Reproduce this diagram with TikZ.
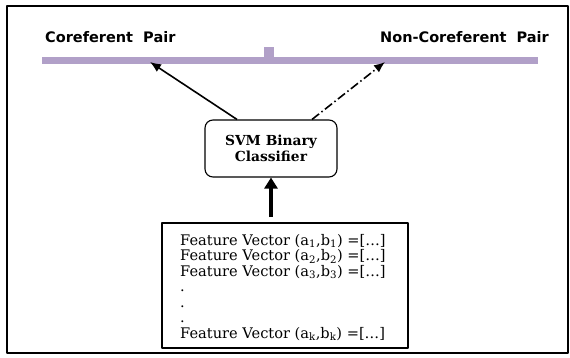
\documentclass[tikz,border=0pt]{standalone}
\usepackage{fontspec}
\usetikzlibrary{arrows.meta}
\newfontfamily\pairfont{DejaVu Sans}
\newfontfamily\boxfont{DejaVu Serif}
\definecolor{barlilac}{RGB}{177,160,200}
\begin{document}
\begin{tikzpicture}[x=1pt, y=-1pt, line join=round,
		pair/.style={anchor=base west, inner sep=0pt, font=\pairfont\bfseries\fontsize{14.5}{17}\selectfont},
		svmbox/.style={draw, line width=1.1pt, rounded corners=8pt, minimum width=132pt, minimum height=57pt, align=center, font=\boxfont\bfseries\fontsize{13.8}{15.5}\selectfont},
		featbox/.style={draw, line width=1.6pt, minimum width=246pt, minimum height=125pt},
		vecline/.style={anchor=base west, inner sep=0pt, font=\boxfont\fontsize{14.6}{15.5}\selectfont},
		thin/.style={line width=1.6pt, -{Latex[length=11pt,width=9pt]}}]
			\useasboundingbox (0,0) rectangle (570,358);
			\draw[line width=2.5pt] (7,6) rectangle (568,353);
			% Thanh phân loại
			\draw[barlilac, line width=7pt] (42,60.5) -- (538,60.5);
			\fill[barlilac] (264,47) rectangle (274,58);
			\node[pair] (cp) at (45,43) {Coreferent~ Pair};
			\node[pair] (ncp) at (380,43) {Non-Coreferent~ Pair};
			\coordinate (P) at (150,62);
			\coordinate (Q) at (385,62);
			% Bộ phân loại
			\node[svmbox] (svm) at (271,148.5) {SVM Binary\\Classifier};
			\draw[thin] ([xshift=-34pt]svm.north) -- (P);
			\draw[thin, dash pattern=on 9pt off 3pt on 1.5pt off 3pt] ([xshift=41pt]svm.north) -- (Q);
			% Các vector đặc trưng
			\node[featbox] (feat) at (285,285.5) {};
			\foreach \t/\y [count=\i] in {{Feature Vector (a\textsubscript{1},b\textsubscript{1}) =[\dots]}/245,
				{Feature Vector (a\textsubscript{2},b\textsubscript{2}) =[\dots]}/260.5,
				{Feature Vector (a\textsubscript{3},b\textsubscript{3}) =[\dots]}/276,
				./291.5, ./307, ./322.5,
				{Feature Vector (a\textsubscript{k},b\textsubscript{k}) =[\dots]}/338}
			\node[vecline] (line\i) at (180,\y) {\t};
			\draw[line width=4pt, shorten <=5pt, -{Triangle[length=11pt,width=13pt]}] (feat.north -| svm.south) -- (svm.south);
		\end{tikzpicture}
\end{document}
